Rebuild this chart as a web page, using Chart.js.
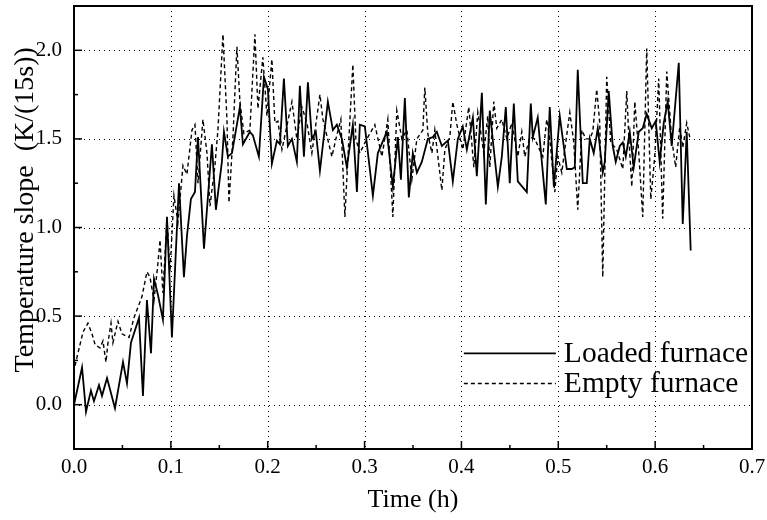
<!DOCTYPE html>
<html>
<head>
<meta charset="utf-8">
<script src="https://cdn.jsdelivr.net/npm/chart.js@4.4.0/dist/chart.umd.min.js"></script>
<style>
  html, body { margin: 0; padding: 0; background: #fff; }
  #wrap { width: 767px; height: 520px; }
</style>
</head>
<body>
<div id="wrap"><canvas id="chart" width="767" height="520"></canvas></div>
<script>
/* ── data ── */
const LOADED_T = [
  0, 0.0083, 0.0124, 0.0175, 0.0206, 0.0258, 0.0289, 0.0341, 0.0423, 0.0506,
  0.0547, 0.0588, 0.0671, 0.0712, 0.0753, 0.0795, 0.0826, 0.0867, 0.0918, 0.0960,
  0.1011, 0.1084, 0.1135, 0.1166, 0.1207, 0.1249, 0.1280, 0.1342, 0.1424, 0.1465,
  0.1527, 0.1548, 0.1589, 0.1631, 0.1713, 0.1744, 0.1816, 0.1847, 0.1909, 0.1961,
  0.2002, 0.2043, 0.2095, 0.2126, 0.2167, 0.2208, 0.2250, 0.2301, 0.2332, 0.2374,
  0.2415, 0.2456, 0.2497, 0.2539, 0.2621, 0.2673, 0.2714, 0.2766, 0.2817, 0.2879,
  0.2921, 0.2951, 0.3003, 0.3086, 0.3137, 0.3230, 0.3292, 0.3344, 0.3375, 0.3416,
  0.3457, 0.3498, 0.3540, 0.3591, 0.3653, 0.3705, 0.3746, 0.3798, 0.3860, 0.3911,
  0.3963, 0.4014, 0.4056, 0.4118, 0.4159, 0.4211, 0.4252, 0.4293, 0.4334, 0.4376,
  0.4417, 0.4458, 0.4499, 0.4541, 0.4582, 0.4675, 0.4716, 0.4737, 0.4788, 0.4871,
  0.4912, 0.4954, 0.5015, 0.5088, 0.5139, 0.5170, 0.5201, 0.5253, 0.5294, 0.5325,
  0.5366, 0.5408, 0.5459, 0.5480, 0.5521, 0.5562, 0.5593, 0.5635, 0.5666, 0.5697,
  0.5738, 0.5779, 0.5831, 0.5872, 0.5913, 0.5965, 0.6006, 0.6047, 0.6089, 0.6130,
  0.6171, 0.6244, 0.6285, 0.6326, 0.6367
];
const LOADED_V = [
  0.00, 0.21, -0.04, 0.08, 0.02, 0.11, 0.05, 0.15, -0.02, 0.24,
  0.12, 0.35, 0.49, 0.05, 0.59, 0.29, 0.71, 0.62, 0.48, 1.06,
  0.38, 1.25, 0.72, 0.95, 1.16, 1.20, 1.51, 0.88, 1.47, 1.10,
  1.37, 1.54, 1.40, 1.42, 1.68, 1.47, 1.54, 1.52, 1.40, 1.85,
  1.78, 1.36, 1.49, 1.47, 1.84, 1.46, 1.50, 1.37, 1.80, 1.40,
  1.82, 1.50, 1.54, 1.32, 1.71, 1.55, 1.58, 1.50, 1.34, 1.58,
  1.20, 1.58, 1.57, 1.18, 1.42, 1.54, 1.23, 1.51, 1.27, 1.73,
  1.17, 1.42, 1.31, 1.37, 1.50, 1.51, 1.54, 1.46, 1.49, 1.26,
  1.50, 1.57, 1.44, 1.62, 1.29, 1.76, 1.13, 1.66, 1.44, 1.23,
  1.40, 1.68, 1.25, 1.70, 1.26, 1.20, 1.70, 1.51, 1.62, 1.13,
  1.68, 1.23, 1.63, 1.33, 1.33, 1.34, 1.89, 1.25, 1.25, 1.50,
  1.42, 1.56, 1.31, 1.37, 1.77, 1.46, 1.37, 1.46, 1.48, 1.40,
  1.54, 1.34, 1.54, 1.56, 1.64, 1.56, 1.60, 1.37, 1.59, 1.71,
  1.46, 1.93, 1.02, 1.54, 0.87
];

const EMPTY_T = [
  0.0010, 0.0093, 0.0144, 0.0186, 0.0217, 0.0268, 0.0299, 0.0330, 0.0351, 0.0382,
  0.0402, 0.0454, 0.0495, 0.0568, 0.0619, 0.0702, 0.0753, 0.0784, 0.0826, 0.0867,
  0.0888, 0.0918, 0.0960, 0.0991, 0.1032, 0.1073, 0.1125, 0.1166, 0.1218, 0.1249,
  0.1280, 0.1331, 0.1373, 0.1404, 0.1455, 0.1486, 0.1538, 0.1579, 0.1600, 0.1641,
  0.1682, 0.1713, 0.1754, 0.1816, 0.1868, 0.1899, 0.1950, 0.1992, 0.2043, 0.2074,
  0.2105, 0.2147, 0.2250, 0.2301, 0.2353, 0.2405, 0.2456, 0.2539, 0.2570, 0.2663,
  0.2704, 0.2755, 0.2797, 0.2838, 0.2879, 0.2910, 0.2951, 0.3024, 0.3106, 0.3179,
  0.3240, 0.3292, 0.3333, 0.3385, 0.3437, 0.3488, 0.3540, 0.3602, 0.3622, 0.3653,
  0.3695, 0.3725, 0.3798, 0.3829, 0.3880, 0.3911, 0.3953, 0.4014, 0.4076, 0.4128,
  0.4169, 0.4231, 0.4272, 0.4293, 0.4334, 0.4365, 0.4417, 0.4469, 0.4520, 0.4582,
  0.4623, 0.4654, 0.4706, 0.4757, 0.4840, 0.4881, 0.4912, 0.4964, 0.4995, 0.5036,
  0.5067, 0.5119, 0.5160, 0.5201, 0.5243, 0.5284, 0.5325, 0.5356, 0.5397, 0.5428,
  0.5459, 0.5500, 0.5542, 0.5604, 0.5666, 0.5707, 0.5728, 0.5759, 0.5790, 0.5831,
  0.5872, 0.5913, 0.5955, 0.5996, 0.6037, 0.6078, 0.6120, 0.6171, 0.6212, 0.6254,
  0.6285, 0.6326, 0.6357
];
const EMPTY_V = [
  0.22, 0.41, 0.46, 0.40, 0.34, 0.32, 0.36, 0.24, 0.35, 0.46,
  0.35, 0.47, 0.40, 0.38, 0.49, 0.61, 0.75, 0.72, 0.59, 0.80,
  0.93, 0.63, 1.05, 0.75, 1.18, 1.03, 1.35, 1.30, 1.55, 1.58,
  1.25, 1.61, 1.42, 1.12, 1.35, 1.55, 2.09, 1.61, 1.14, 1.51,
  2.02, 1.71, 1.53, 1.55, 2.09, 1.67, 1.96, 1.63, 1.95, 1.59,
  1.60, 1.44, 1.71, 1.50, 1.68, 1.59, 1.42, 1.75, 1.61, 1.40,
  1.50, 1.61, 1.06, 1.50, 1.92, 1.50, 1.42, 1.50, 1.58, 1.40,
  1.61, 1.06, 1.66, 1.50, 1.55, 1.27, 1.50, 1.55, 1.79, 1.53,
  1.42, 1.55, 1.21, 1.44, 1.51, 1.71, 1.58, 1.44, 1.68, 1.34,
  1.65, 1.42, 1.63, 1.34, 1.71, 1.56, 1.61, 1.50, 1.59, 1.40,
  1.54, 1.40, 1.51, 1.50, 1.40, 1.61, 1.50, 1.20, 1.40, 1.31,
  1.44, 1.65, 1.48, 1.10, 1.55, 1.50, 1.50, 1.54, 1.78, 1.59,
  0.72, 1.85, 1.48, 1.44, 1.33, 1.77, 1.51, 1.23, 1.71, 1.42,
  1.06, 2.01, 1.16, 1.40, 1.84, 1.05, 1.88, 1.50, 1.34, 1.57,
  1.45, 1.59, 1.51
];

const X_TICKS = [0, 0.1, 0.2, 0.3, 0.4, 0.5, 0.6, 0.7];
const X_MINOR = [0.05, 0.15, 0.25, 0.35, 0.45, 0.55, 0.65];
const Y_TICKS = [0, 0.5, 1.0, 1.5, 2.0];
const Y_MINOR = [-0.25, 0.25, 0.75, 1.25, 1.75, 2.25];
const SERIES_LABELS = ["Loaded furnace", "Empty furnace"];
const Y_TITLE = "Temperature slope  (K/(15s))";

const SERIF = "'Liberation Serif', 'Times New Roman', serif";

const toPts = (ts, vs) => ts.map((t, i) => ({ x: t, y: vs[i] }));

/* ── frame, grid, inward ticks, legend, y title ── */
const framePlugin = {
  id: "frame",
  beforeDatasetsDraw(chart) {
    const { ctx, chartArea: a, scales: { x, y } } = chart;
    ctx.save();
    ctx.strokeStyle = "#000";
    ctx.lineWidth = 1;
    ctx.setLineDash([1, 4]);
    X_TICKS.forEach(v => {
      const px = Math.round(x.getPixelForValue(v)) + 0.5;
      if (px <= a.left + 2 || px >= a.right - 2) return;
      ctx.beginPath(); ctx.moveTo(px, a.top); ctx.lineTo(px, a.bottom); ctx.stroke();
    });
    Y_TICKS.forEach(v => {
      const py = Math.round(y.getPixelForValue(v)) + 0.5;
      ctx.beginPath(); ctx.moveTo(a.left, py); ctx.lineTo(a.right, py); ctx.stroke();
    });
    ctx.restore();
  },
  afterDatasetsDraw(chart) {
    const { ctx, chartArea: a, scales: { x, y } } = chart;
    ctx.save();
    ctx.strokeStyle = "#000";
    ctx.setLineDash([]);
    ctx.lineWidth = 2;
    ctx.strokeRect(a.left, a.top, a.right - a.left, a.bottom - a.top);

    // ticks point inward (bottom and left only)
    ctx.lineWidth = 1.5;
    const tick = (x0, y0, x1, y1) => { ctx.beginPath(); ctx.moveTo(x0, y0); ctx.lineTo(x1, y1); ctx.stroke(); };
    X_TICKS.forEach(v => { const px = x.getPixelForValue(v); tick(px, a.bottom, px, a.bottom - 8); });
    X_MINOR.forEach(v => { const px = x.getPixelForValue(v); tick(px, a.bottom, px, a.bottom - 4); });
    Y_TICKS.forEach(v => { const py = y.getPixelForValue(v); tick(a.left, py, a.left + 8, py); });
    Y_MINOR.forEach(v => { const py = y.getPixelForValue(v); tick(a.left, py, a.left + 4, py); });

    // legend inside the plot
    const lx0 = x.getPixelForValue(0.4025), lx1 = x.getPixelForValue(0.4975);
    const rows = [
      { label: SERIES_LABELS[0], yv: 0.29, dash: [], w: 1.8 },
      { label: SERIES_LABELS[1], yv: 0.12, dash: [4, 3], w: 1.4 },
    ];
    ctx.font = "29.5px " + SERIF;
    ctx.fillStyle = "#000";
    ctx.textBaseline = "middle";
    rows.forEach(r => {
      const py = y.getPixelForValue(r.yv);
      ctx.lineWidth = r.w;
      ctx.setLineDash(r.dash);
      tick(lx0, py, lx1, py);
      ctx.fillText(r.label, lx1 + 8, py + 1);
    });

    // y axis title, sitting a bit above the axis centre as in the source
    ctx.translate(26, y.getPixelForValue(1.1));
    ctx.rotate(-Math.PI / 2);
    ctx.font = "28px " + SERIF;
    ctx.textAlign = "center";
    ctx.textBaseline = "middle";
    ctx.fillText(Y_TITLE, 0, 0);
    ctx.restore();
  },
};

Chart.defaults.font.family = SERIF;
Chart.defaults.color = "#000";

new Chart(document.getElementById("chart"), {
  type: "line",
  data: {
    datasets: [
      {
        label: SERIES_LABELS[0],
        data: toPts(LOADED_T, LOADED_V),
        borderColor: "#000",
        borderWidth: 1.8,
        pointRadius: 0,
        tension: 0,
        fill: false,
      },
      {
        label: SERIES_LABELS[1],
        data: toPts(EMPTY_T, EMPTY_V),
        borderColor: "#000",
        borderWidth: 1.4,
        borderDash: [4, 3],
        pointRadius: 0,
        tension: 0,
        fill: false,
      },
    ],
  },
  options: {
    responsive: false,
    animation: false,
    layout: { padding: { top: 6, right: 15, left: 0, bottom: 0 } },
    plugins: { legend: { display: false }, tooltip: { enabled: false } },
    scales: {
      x: {
        type: "linear",
        min: 0,
        max: 0.7,
        afterBuildTicks: s => { s.ticks = X_TICKS.map(v => ({ value: v })); },
        afterFit: s => { s.height = 71; s.paddingLeft = 0; s.paddingRight = 0; },
        grid: { display: false, drawTicks: false },
        border: { display: false },
        ticks: { padding: 6, font: { size: 21 }, color: "#000", callback: v => v.toFixed(1), maxRotation: 0 },
        title: { display: true, text: "Time (h)", font: { size: 26 }, color: "#000", padding: { top: 0, bottom: 4 } },
      },
      y: {
        type: "linear",
        min: -0.25,
        max: 2.25,
        afterBuildTicks: s => { s.ticks = Y_TICKS.map(v => ({ value: v })); },
        afterFit: s => { s.width = 74; s.paddingTop = 0; s.paddingBottom = 0; },
        grid: { display: false, drawTicks: false },
        border: { display: false },
        ticks: { padding: 12, font: { size: 21 }, color: "#000", callback: v => v.toFixed(1) },
        title: { display: false },
      },
    },
  },
  plugins: [framePlugin],
});
</script>
</body>
</html>
